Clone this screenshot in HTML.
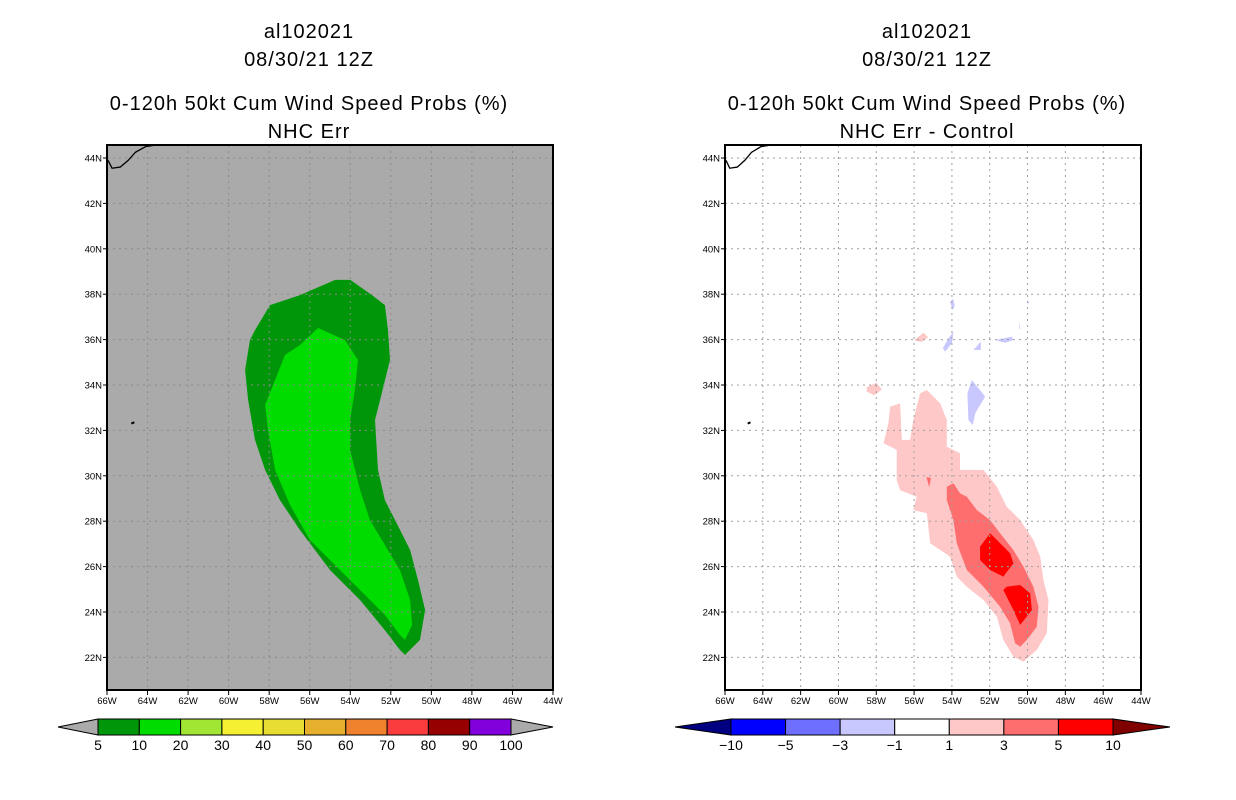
<!DOCTYPE html>
<html><head><meta charset="utf-8"><style>
body{margin:0;background:#fff;width:1236px;height:800px;overflow:hidden}
svg{display:block}
text{font-family:"Liberation Sans",sans-serif;fill:#000}
</style></head><body>
<svg id="c" width="1236" height="800" viewBox="0 0 1236 800" xmlns="http://www.w3.org/2000/svg"></svg>
<script>
// ---- data ----
const lonTicks=[-66,-64,-62,-60,-58,-56,-54,-52,-50,-48,-46,-44];
const latTicks=[22,24,26,28,30,32,34,36,38,40,42,44];
const leftOuterLon=[-58.7,-57.96,-56.48,-54.75,-54.0,-52.93,-52.29,-52.14,-52.04,-52.53,-52.78,-52.63,-52.29,-51.79,-51.05,-50.66,-50.31,-50.56,-51.3,-51.55,-52.29,-53.52,-55.0,-56.48,-57.47,-58.2,-58.7,-59.04,-59.19,-58.95];
const leftOuterLat=[36.42,37.52,37.96,38.63,38.63,37.96,37.52,36.42,35.1,33.34,32.46,30.26,28.93,28.05,26.73,25.41,24.09,22.77,22.11,22.33,23.2,24.53,25.85,27.61,28.93,30.26,31.58,33.34,34.66,35.98];
const leftInnerLon=[-57.71,-57.22,-56.48,-55.59,-54.26,-53.62,-53.77,-54.01,-54.01,-53.52,-53.03,-52.29,-51.55,-51.05,-50.95,-51.30,-51.55,-52.29,-53.27,-54.51,-55.99,-56.97,-57.71,-58.06,-58.2];
const leftInnerLat=[34.22,35.32,35.76,36.51,35.98,35.1,33.78,32.46,31.14,29.38,28.05,26.95,25.85,24.53,23.43,22.77,22.99,23.87,24.75,25.85,27.17,28.71,30.26,32.02,33.12];
const p1Lon=[-57.27,-56.74,-56.65,-56.21,-56.04,-55.68,-55.33,-54.62,-54.27,-54.27,-53.57,-53.57,-52.33,-51.62,-51.10,-50.39,-49.69,-49.33,-49.16,-48.89,-48.98,-49.51,-50.22,-50.75,-51.28,-51.62,-52.33,-53.21,-53.74,-54.10,-55.15,-55.33,-56.04,-55.86,-56.74,-56.92,-56.92,-57.62,-57.36];
const p1Lat=[33.04,33.19,31.58,31.58,32.46,33.63,33.78,33.19,32.46,31.28,30.99,30.26,30.26,29.52,28.64,28.05,27.17,26.44,25.41,24.53,23.06,22.33,21.81,22.03,22.77,23.79,24.53,25.11,25.56,26.44,27.03,28.35,28.49,29.08,29.37,29.81,31.14,31.43,32.31];
const p3Lon=[-54.27,-53.92,-53.57,-53.21,-52.68,-51.98,-51.45,-50.75,-50.22,-49.69,-49.42,-49.51,-50.04,-50.39,-50.66,-50.92,-51.45,-52.33,-53.21,-53.74,-53.92,-54.27];
const p3Lat=[29.52,29.67,29.23,29.08,28.49,28.05,27.47,26.73,26.0,25.11,24.23,23.35,22.77,22.47,22.62,23.50,24.23,25.11,25.85,27.03,28.05,28.93];
const r1Lon=[-51.98,-51.62,-50.92,-50.75,-51.28,-51.98,-52.51,-52.51];
const r1Lat=[27.47,27.17,26.59,26.15,25.56,25.85,26.29,26.88];
const r2Lon=[-51.10,-50.39,-49.86,-49.77,-50.39,-50.75,-51.28];
const r2Lat=[25.11,25.19,24.82,24.09,23.43,24.09,24.97];
const pinkSmallLon=[[-58.5,-58.0,-57.7,-58.1,-58.5],[-55.95,-55.5,-55.26,-55.6,-55.95]];
const pinkSmallLat=[[33.9,34.1,33.8,33.55,33.7],[36.0,36.3,36.1,35.9,35.95]];
const blueLon=[[-53.92,-54.0,-54.36,-54.48,-54.18],[-52.86,-52.47,-52.47],[-51.71,-50.83,-50.75,-51.19],[-52.95,-52.24,-52.77,-52.9,-53.13,-53.18],[-54.1,-53.95,-53.85,-53.95],[-50.02,-49.92,-49.97],[-50.47,-50.40,-50.44]];
const blueLat=[[36.35,35.84,35.47,35.62,36.06],[35.54,35.91,35.54],[35.98,36.13,35.98,35.86],[34.22,33.49,32.75,32.24,32.46,33.63],[37.65,37.8,37.5,37.3],[37.7,37.66,37.55],[36.86,36.47,36.47]];
const coastLon=[-65.95,-65.75,-65.35,-64.95,-64.6,-64.1,-63.6];
const coastLat=[43.9,43.55,43.6,43.9,44.25,44.5,44.57];
const leftCbLabels=["5","10","20","30","40","50","60","70","80","90","100"];
const leftCbColors=["#00960a","#00dc00","#a0e632","#f5f032","#e6dc32","#e6af2d","#f0822d","#fa3c3c","#960000","#8200dc"];
const rightCbLabels=["-10","-5","-3","-1","1","3","5","10"];
const rightCbColors=["#0000ff","#6e6eff","#c8c8ff","#ffffff","#ffc8c8","#ff6e6e","#ff0000"];

const svg=document.getElementById('c');
const NS='http://www.w3.org/2000/svg';
function mk(tag,attrs,parent){const e=document.createElementNS(NS,tag);for(const k in attrs)e.setAttribute(k,attrs[k]);(parent||svg).appendChild(e);return e;}
function panel(x0,x1){return{x:lon=>x0+(lon+66)*(x1-x0)/22,y:lat=>158+(44-lat)*22.7,x0:x0,x1:x1};}
function poly(P,lons,lats,fill,name,g){const pts=lons.map((l,i)=>P.x(l).toFixed(1)+','+P.y(lats[i]).toFixed(1)).join(' ');
 const e=mk('polygon',{points:pts,fill:fill},g);
 
 }
function texts(cx,lines){lines.forEach((t,i)=>{const e=mk('text',{x:cx,y:t[1],'font-size':20,'text-anchor':'middle','letter-spacing':'1'});e.textContent=t[0];
 
 });}
function axes(P,bg){
 const r=mk('rect',{x:P.x0,y:145,width:P.x1-P.x0,height:545,fill:bg});
 
 }
function grid(P,col){
 lonTicks.slice(1,-1).forEach(l=>{const e=mk('line',{x1:P.x(l),x2:P.x(l),y1:145,y2:690,stroke:col,'stroke-width':1,'stroke-dasharray':'2 4'});
  
  });
 latTicks.forEach(l=>{const e=mk('line',{x1:P.x0,x2:P.x1,y1:P.y(l),y2:P.y(l),stroke:col,'stroke-width':1,'stroke-dasharray':'2 4'});
  
  });}
function frame(P){
 const r=mk('rect',{x:P.x0,y:145,width:P.x1-P.x0,height:545,fill:'none',stroke:'#000','stroke-width':2});
 
 
 lonTicks.forEach(l=>{const t=mk('line',{x1:P.x(l),x2:P.x(l),y1:690,y2:695,stroke:'#000'});
  
  
  const e=mk('text',{x:P.x(l),y:704,'font-size':9.5,'text-anchor':'middle'});e.textContent=(-l)+'W';
  
  });
 latTicks.forEach(l=>{const t=mk('line',{x1:P.x0-4,x2:P.x0,y1:P.y(l),y2:P.y(l),stroke:'#000'});
  
  
  const e=mk('text',{x:P.x0-5,y:P.y(l)+3.5,'font-size':9.5,'text-anchor':'end'});e.textContent=l+'N';
  
  });}
function coast(P){
 const pts=coastLon.map((l,i)=>P.x(l)+','+P.y(coastLat[i])).join(' ');
 const e=mk('polyline',{points:pts,fill:'none',stroke:'#000','stroke-width':1.3});
 
 
 const d=mk('line',{x1:P.x(-64.8),x2:P.x(-64.65),y1:P.y(32.3),y2:P.y(32.36),stroke:'#000','stroke-width':2});
 
 }
function colorbar(x0,x1,tl,tr,colors,labels,lcol,rcol,name){
 const y0=719,y1=735,w=(x1-x0)/colors.length;
 const g=mk('g',{});
 
 
 const a=mk('polygon',{points:`${x0},${y0} ${x0},${y1} ${tl},${(y0+y1)/2}`,fill:lcol,stroke:'#000','stroke-width':1},g);
 
 
 const b=mk('polygon',{points:`${x1},${y0} ${x1},${y1} ${tr},${(y0+y1)/2}`,fill:rcol,stroke:'#000','stroke-width':1},g);
 
 
 colors.forEach((c,i)=>{const r=mk('rect',{x:x0+i*w,y:y0,width:w,height:y1-y0,fill:c,stroke:'#000','stroke-width':1},g);
  
  });
 labels.forEach((t,i)=>{const e=mk('text',{x:x0+i*(x1-x0)/(labels.length-1),y:750,'font-size':14,'text-anchor':'middle'},g);e.textContent=t.replace('-','\u2212');
  
  });}

// left panel
const L=panel(107,553);
texts(309,[["al102021",38,'left-storm-id'],["08/30/21 12Z",66,'left-date'],["0-120h 50kt Cum Wind Speed Probs (%)",110,'left-title'],["NHC Err",138,'left-subtitle']]);
axes(L,'#aaaaaa');
poly(L,leftOuterLon,leftOuterLat,'#00960a','prob-5-10');
poly(L,leftInnerLon,leftInnerLat,'#00dc00','prob-10-20');
grid(L,'#8a8a8a');
coast(L);frame(L);
colorbar(98,511,58,553,leftCbColors,leftCbLabels,'#aaaaaa','#aaaaaa','left-colorbar');

// right panel
const R=panel(725,1141);
texts(927,[["al102021",38,'right-storm-id'],["08/30/21 12Z",66,'right-date'],["0-120h 50kt Cum Wind Speed Probs (%)",110,'right-title'],["NHC Err - Control",138,'right-subtitle']]);
axes(R,'#ffffff');
poly(R,p1Lon,p1Lat,'#ffc8c8','diff-1-3');
pinkSmallLon.forEach((a,i)=>poly(R,a,pinkSmallLat[i],'#ffc8c8','diff-1-3-small'));
poly(R,p3Lon,p3Lat,'#ff6e6e','diff-3-5');
poly(R,[-55.35,-55.1,-55.2],[29.95,29.9,29.5],'#ff6e6e','diff-3-5-small');
poly(R,r1Lon,r1Lat,'#ff0000','diff-5-10-north');
poly(R,r2Lon,r2Lat,'#ff0000','diff-5-10-south');
blueLon.forEach((a,i)=>poly(R,a,blueLat[i],'#c8c8ff','diff-neg-1-3'));
grid(R,'#a0a0a0');
coast(R);frame(R);
colorbar(731,1113,675,1170,rightCbColors,rightCbLabels,'#000080','#800000','right-colorbar');
</script>
</body></html>
